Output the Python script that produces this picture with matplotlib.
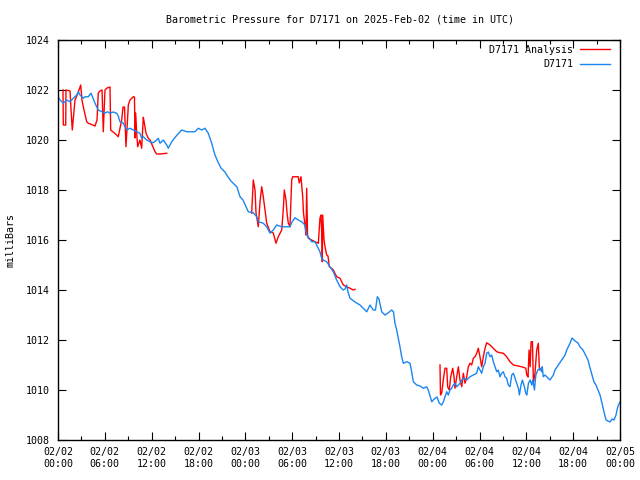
import numpy as np
import matplotlib
matplotlib.use("Agg")
import matplotlib.pyplot as plt
from matplotlib.ticker import MultipleLocator

# Hours since 2025-02-02 00:00 UTC, pressure in millibars
obs_hours = [0.00, 0.26, 0.68, 1.11, 1.54, 1.96, 2.40, 2.60, 2.82, 3.24, 3.46, 3.88, 4.23, 4.48, 4.74,
             5.16, 5.57, 6.02, 6.34, 6.66, 7.08, 7.52, 7.72, 7.94, 8.37, 8.80, 9.22, 9.65, 10.08, 10.50,
             10.72, 10.93, 11.36, 11.79, 12.21, 12.64, 12.85, 13.07, 13.49, 13.93, 14.13, 14.57, 14.99,
             15.37, 15.85, 16.49, 17.13, 17.55, 17.97, 18.41, 18.83, 19.25, 19.69, 20.11, 20.50, 20.88,
             21.39, 21.78, 22.16, 22.55, 22.93, 23.32, 23.70, 24.17, 24.38, 25.02, 25.46, 25.66, 26.30,
             26.74, 27.16, 27.58, 28.02, 28.66, 29.21, 29.72, 29.98, 30.36, 30.78, 31.22, 31.64, 31.86,
             32.16, 32.50, 32.92, 33.14, 33.56, 33.78, 33.99, 34.42, 34.85, 35.27, 35.70, 36.13, 36.55,
             36.77, 36.99, 37.15, 37.41, 38.05, 38.69, 39.08, 39.55, 39.97, 40.39, 40.67, 40.91, 41.12,
             41.47, 41.89, 42.28, 42.75, 42.98, 43.17, 43.39, 43.60, 43.81, 44.03, 44.24, 44.67, 45.10,
             45.31, 45.52, 45.95, 46.38, 46.80, 47.23, 47.44, 47.66, 47.88, 48.30, 48.56, 48.85, 49.16,
             49.37, 49.58, 49.80, 50.00, 50.22, 50.44, 50.64, 50.86, 51.08, 51.29, 51.50, 51.72, 51.93,
             52.36, 52.57, 52.78, 53.21, 53.64, 53.85, 54.06, 54.28, 54.49, 54.71, 54.92, 55.13, 55.35,
             55.57, 55.77, 55.99, 56.21, 56.41, 56.62, 56.84, 57.05, 57.27, 57.48, 57.69, 57.91, 58.13,
             58.34, 58.56, 58.77, 58.98, 59.11, 59.32, 59.49, 59.75, 59.93, 60.06, 60.27, 60.49, 60.70,
             60.83, 61.04, 61.22, 61.47, 61.75, 61.97, 62.04, 62.17, 62.39, 62.61, 63.03, 63.46, 63.67,
             64.10, 64.53, 64.96, 65.17, 65.60, 65.85, 66.24, 66.62, 66.88, 67.26, 67.64, 67.90, 68.16,
             68.41, 68.67, 68.92, 69.18, 69.44, 69.69, 69.95, 70.21, 70.46, 70.72, 70.98, 71.23, 71.49,
             71.62, 71.75, 72.00]
obs_mb = [1021.72, 1021.60, 1021.47, 1021.60, 1021.53, 1021.67, 1021.80, 1021.93, 1021.80, 1021.67,
          1021.73, 1021.73, 1021.87, 1021.68, 1021.47, 1021.20, 1021.14, 1021.07, 1021.13, 1021.07,
          1021.12, 1021.07, 1020.96, 1020.73, 1020.67, 1020.40, 1020.47, 1020.40, 1020.33, 1020.27,
          1020.07, 1020.13, 1020.00, 1019.93, 1019.89, 1020.00, 1020.07, 1019.87, 1020.00, 1019.80,
          1019.67, 1019.93, 1020.10, 1020.24, 1020.40, 1020.33, 1020.33, 1020.33, 1020.47, 1020.40,
          1020.47, 1020.27, 1019.87, 1019.40, 1019.12, 1018.88, 1018.72, 1018.52, 1018.36, 1018.24,
          1018.12, 1017.73, 1017.60, 1017.27, 1017.13, 1017.09, 1016.93, 1016.73, 1016.67, 1016.53,
          1016.27, 1016.40, 1016.60, 1016.53, 1016.53, 1016.53, 1016.72, 1016.89, 1016.80, 1016.73,
          1016.60, 1016.20, 1016.08, 1015.93, 1015.93, 1015.80, 1015.53, 1015.27, 1015.20, 1015.13,
          1014.93, 1014.73, 1014.40, 1014.13, 1014.00, 1014.04, 1014.20, 1013.92, 1013.67, 1013.52,
          1013.40, 1013.28, 1013.13, 1013.40, 1013.20, 1013.20, 1013.73, 1013.64, 1013.13, 1013.00,
          1013.08, 1013.20, 1013.13, 1012.67, 1012.40, 1012.07, 1011.73, 1011.33, 1011.07, 1011.13,
          1011.07, 1010.73, 1010.33, 1010.20, 1010.16, 1010.07, 1010.13, 1010.00, 1009.76, 1009.53,
          1009.67, 1009.72, 1009.47, 1009.40, 1009.53, 1009.73, 1009.93, 1009.80, 1010.00, 1010.07,
          1010.20, 1010.27, 1010.13, 1010.20, 1010.27, 1010.40, 1010.47, 1010.40, 1010.47, 1010.53,
          1010.60, 1010.67, 1010.93, 1010.80, 1010.67, 1010.93, 1011.07, 1011.47, 1011.52, 1011.33,
          1011.40, 1011.13, 1010.93, 1010.73, 1010.80, 1010.53, 1010.67, 1010.73, 1010.53, 1010.47,
          1010.20, 1010.13, 1010.60, 1010.67, 1010.47, 1010.27, 1010.07, 1009.80, 1010.20, 1010.40,
          1010.13, 1009.87, 1009.80, 1010.27, 1010.40, 1010.20, 1010.40, 1010.00, 1010.60, 1010.80,
          1010.87, 1010.73, 1010.93, 1010.53, 1010.60, 1010.53, 1010.40, 1010.60, 1010.80, 1011.00,
          1011.20, 1011.40, 1011.60, 1011.87, 1012.08, 1011.96, 1011.88, 1011.72, 1011.60, 1011.36,
          1011.20, 1010.88, 1010.60, 1010.32, 1010.20, 1010.00, 1009.80, 1009.48, 1009.12, 1008.80,
          1008.76, 1008.72, 1008.84, 1008.80, 1009.00, 1009.20, 1009.36, 1009.52]

# Analysis series (NaN marks gaps between analysis runs)
ana_hours = [0.64, 0.68, 0.99, 1.02, 1.54, 1.67, 1.83, 2.18, 2.56, 2.91, 3.07, 3.33, 3.68, 3.84, 4.74, 5.00,
             5.16, 5.38, 5.64, 5.80, 6.02, 6.28, 6.66, 6.75, 7.05, 7.52, 7.72, 8.16, 8.33, 8.52, 8.71,
             9.01, 9.22, 9.65, 9.80, 9.86, 9.95, 10.08, 10.21, 10.50, 10.72, 10.93, 11.06, 11.27, 11.57,
             11.79, 12.43, 12.64, 13.07, 13.93,
             19.0,
             24.81, 25.02, 25.24, 25.37, 25.66, 25.88, 26.10, 26.30, 26.52, 26.74, 27.16, 27.58, 27.93,
             28.22, 28.66, 28.86, 28.99, 29.21, 29.34, 29.50, 29.72, 29.94, 30.07, 30.78, 30.91, 31.13,
             31.35, 31.45, 31.64, 31.77, 31.86, 31.97, 32.07, 32.50, 32.92, 33.35, 33.56, 33.69, 33.82,
             33.86, 33.91, 34.08, 34.21, 34.42, 34.59, 34.76, 35.05, 35.27, 35.70, 36.13, 36.34, 36.55,
             36.99, 37.41, 37.83, 38.05,
             43.0,
             48.94, 49.00, 49.16, 49.36, 49.58, 49.80, 49.92, 50.13, 50.31, 50.57, 50.73, 50.86, 51.08,
             51.29, 51.50, 51.72, 51.93, 52.14, 52.36, 52.57, 52.78, 53.00, 53.21, 53.43, 53.64, 53.85,
             54.06, 54.28, 54.49, 54.71, 54.92, 55.35, 55.77, 56.21, 56.62, 57.05, 57.48, 57.91, 58.34,
             58.98, 59.62, 59.93, 60.06, 60.22, 60.35, 60.49, 60.61, 60.78, 60.91, 61.11, 61.33, 61.53,
             61.66, 61.75]
ana_mb = [1022.00, 1020.60, 1020.60, 1022.00, 1021.96, 1021.20, 1020.40, 1021.60, 1021.88, 1022.20, 1021.60,
          1021.20, 1020.73, 1020.68, 1020.56, 1020.80, 1021.88, 1021.96, 1022.00, 1020.33, 1022.00,
          1022.08, 1022.12, 1020.40, 1020.32, 1020.20, 1020.13, 1020.80, 1021.32, 1021.32, 1019.73,
          1021.40, 1021.60, 1021.73, 1021.72, 1020.08, 1021.08, 1020.28, 1019.73, 1020.00, 1019.67,
          1020.91, 1020.68, 1020.28, 1020.07, 1020.00, 1019.53, 1019.44, 1019.44, 1019.47,
          np.nan,
          1017.07, 1018.40, 1018.00, 1017.08, 1016.53, 1017.53, 1018.13, 1017.73, 1017.20, 1016.67,
          1016.33, 1016.28, 1015.87, 1016.13, 1016.40, 1017.20, 1018.00, 1017.60, 1017.08, 1016.68,
          1016.53, 1018.40, 1018.53, 1018.53, 1018.28, 1018.53, 1017.73, 1017.08, 1016.60, 1016.20,
          1018.07, 1016.20, 1016.07, 1016.00, 1015.93, 1015.87, 1016.87, 1017.00, 1016.00, 1015.13,
          1017.00, 1016.00, 1015.73, 1015.40, 1015.36, 1014.93, 1014.87, 1014.80, 1014.53, 1014.47,
          1014.33, 1014.20, 1014.13, 1014.07, 1014.00, 1014.03,
          np.nan,
          1011.00, 1009.80, 1009.88, 1010.40, 1010.87, 1010.87, 1010.13, 1010.00, 1010.53, 1010.87,
          1010.53, 1010.07, 1010.53, 1010.93, 1010.40, 1010.13, 1010.67, 1010.27, 1010.53, 1010.93,
          1011.07, 1011.00, 1011.27, 1011.33, 1011.47, 1011.67, 1011.33, 1010.93, 1011.33, 1011.67,
          1011.89, 1011.80, 1011.67, 1011.53, 1011.49, 1011.47, 1011.33, 1011.13, 1011.00, 1010.96,
          1010.91, 1010.87, 1010.60, 1010.52, 1011.60, 1010.93, 1011.93, 1011.93, 1010.27, 1010.68,
          1011.60, 1011.87, 1010.93, 1010.80]

xtick_hours = [0, 6, 12, 18, 24, 30, 36, 42, 48, 54, 60, 66, 72]
xtick_labels = ["02/02\n00:00", "02/02\n06:00", "02/02\n12:00", "02/02\n18:00",
                "02/03\n00:00", "02/03\n06:00", "02/03\n12:00", "02/03\n18:00",
                "02/04\n00:00", "02/04\n06:00", "02/04\n12:00", "02/04\n18:00",
                "02/05\n00:00"]

FONT = "DejaVu Sans Mono"
FS = 7.2
plt.rcParams['font.family'] = FONT
plt.rcParams['font.size'] = FS

fig = plt.figure(figsize=(6.4, 4.8), dpi=100)
ax = fig.add_axes([58/640, 1 - 440/480, (620-58)/640, 400/480])

ax.plot(ana_hours, ana_mb, color='#ff0000', lw=1.0, label='D7171 Analysis')
ax.plot(obs_hours, obs_mb, color='#1a86f0', lw=1.0, label='D7171')

ax.set_xlim(0, 72)
ax.set_ylim(1008, 1024)
ax.set_xticks(xtick_hours)
ax.set_xticklabels(xtick_labels, fontsize=FS, linespacing=1.25)
ax.xaxis.set_minor_locator(MultipleLocator(3))
ax.yaxis.set_major_locator(MultipleLocator(2))
ax.tick_params(axis='both', which='both', direction='in', top=True, right=True, width=0.8, colors='black')
ax.tick_params(axis='both', which='major', length=6, pad=5)
ax.tick_params(axis='both', which='minor', length=3)
ax.tick_params(axis='y', labelsize=FS, pad=6)
for s in ax.spines.values():
    s.set_linewidth(1.0)

ax.set_ylabel('milliBars', fontsize=FS)
ax.yaxis.set_label_coords(-0.076, 0.5)
fig.text(340/640, 1 - 19/480, 'Barometric Pressure for D7171 on 2025-Feb-02 (time in UTC)',
         ha='center', va='center', fontsize=FS)

leg = ax.legend(loc='upper right', frameon=False, markerfirst=False, handlelength=3.0,
                handletextpad=0.7, labelspacing=0.45, fontsize=FS,
                bbox_to_anchor=(1.0 - 4/562, 1.0 + 1/400), borderaxespad=0.2)
for t in leg.get_texts():
    t.set_ha('right')

fig.savefig('out.png', dpi=100)
